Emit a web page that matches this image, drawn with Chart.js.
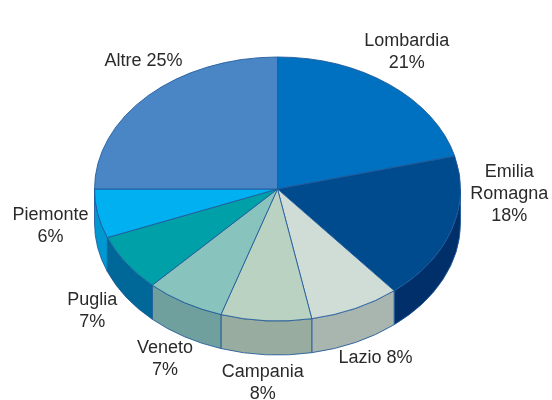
<!DOCTYPE html>
<html>
<head>
<meta charset="utf-8">
<script src="https://cdn.jsdelivr.net/npm/chart.js@4"></script>
<style>
  html, body { margin: 0; padding: 0; background: #ffffff; }
</style>
</head>
<body>
<canvas id="pieChart" width="552" height="400"></canvas>
<script>
// Data
const regions = ['Lombardia', 'Emilia Romagna', 'Lazio', 'Campania', 'Veneto', 'Puglia', 'Piemonte', 'Altre'];
const shares = [21, 18, 8, 8, 7, 7, 6, 25];
const inlineLabels = ['Lazio', 'Altre'];

// Style
const topColors = ['#0070c0', '#004a8e', '#d0ddd7', '#bad2c2', '#88c3be', '#00a0a8', '#00b0f0', '#4a86c6'];
const sideColors = ['#00508c', '#002f6a', '#a9b5af', '#98ac9f', '#6fa09d', '#006898', '#0098d0', '#33649a'];
const edgeColor = '#1f5a9a';
const TILT = 132 / 183;     // vertical squash of the pie
const DEPTH = 34;           // thickness of the pie in px
const CENTER_Y = 189;       // where the top face centre sits on screen
const LINE_H = 22;
const LABEL_GAP = 10;
const labelNudge = {
    'Lombardia': [-15, -7],
    'Emilia Romagna': [11, -60],
    'Campania': [0, -4],
    'Puglia': [-5, 11],
    'Altre': [30, -20]
};

// Build label text from the data
function labelLines(i) {
    const pct = shares[i] + '%';
    if (inlineLabels.includes(regions[i])) {
        return [regions[i] + ' ' + pct];
    }
    return regions[i].split(' ').concat([pct]);
}

function drawLabels(chart) {
    const ctx = chart.ctx;
    const arcs = chart.getDatasetMeta(0).data;
    ctx.save();
    ctx.font = '18px "Liberation Sans", Arial, sans-serif';
    ctx.fillStyle = '#2a2a2a';
    ctx.textAlign = 'center';
    ctx.textBaseline = 'middle';
    arcs.forEach((arc, i) => {
        const mid = (arc.startAngle + arc.endAngle) / 2;
        const c = Math.cos(mid), s = Math.sin(mid);
        const lines = labelLines(i);
        const w = Math.max(...lines.map(t => ctx.measureText(t).width));
        const h = lines.length * LINE_H;
        const rx = arc.outerRadius + LABEL_GAP;
        const ry = arc.outerRadius * TILT + LABEL_GAP;
        const nudge = labelNudge[regions[i]] || [0, 0];
        const lx = arc.x + rx * c + (w / 2) * c + nudge[0];
        const ly = CENTER_Y + ry * s + DEPTH * Math.max(s, 0) + (h / 2) * s + nudge[1];
        lines.forEach((t, j) => ctx.fillText(t, lx, ly - h / 2 + LINE_H * (j + 0.5)));
    });
    ctx.restore();
}

// Squash the pie into an ellipse and draw its front wall
const pie3d = {
    id: 'pie3d',
    beforeDatasetsDraw(chart) {
        const ctx = chart.ctx;
        const arcs = chart.getDatasetMeta(0).data;
        const { x, y, outerRadius } = arcs[0];
        ctx.save();
        ctx.translate(0, CENTER_Y);
        ctx.scale(1, TILT);
        ctx.translate(0, -y);
        const d = DEPTH / TILT;
        arcs.forEach((arc, i) => {
            const s = Math.max(arc.startAngle, 0);
            const e = Math.min(arc.endAngle, Math.PI);
            if (s >= e) return;
            ctx.beginPath();
            ctx.arc(x, y, outerRadius, s, e);
            ctx.arc(x, y + d, outerRadius, e, s, true);
            ctx.closePath();
            ctx.fillStyle = sideColors[i];
            ctx.fill();
            ctx.lineWidth = 1;
            ctx.strokeStyle = edgeColor;
            ctx.stroke();
        });
    },
    afterDatasetsDraw(chart) {
        chart.ctx.restore();
        drawLabels(chart);
    }
};

const ctx = document.getElementById('pieChart').getContext('2d');
new Chart(ctx, {
    type: 'pie',
    data: {
        labels: regions,
        datasets: [{
            data: shares,
            backgroundColor: topColors,
            borderColor: edgeColor,
            borderWidth: 1
        }]
    },
    options: {
        responsive: false,
        animation: false,
        events: [],
        layout: { padding: { left: 94, right: 91, top: 16, bottom: 17 } },
        plugins: {
            legend: { display: false },
            tooltip: { enabled: false }
        }
    },
    plugins: [pie3d]
});
</script>
</body>
</html>
